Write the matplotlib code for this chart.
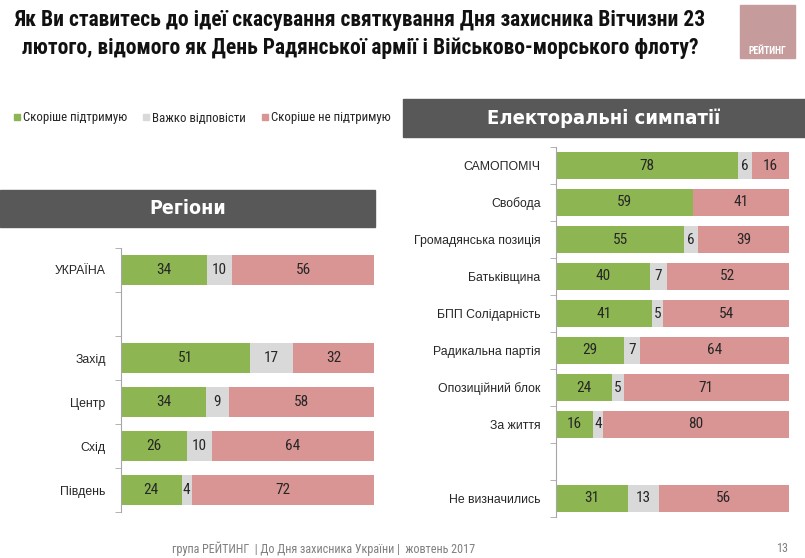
import matplotlib
matplotlib.use("Agg")
import matplotlib.pyplot as plt
from matplotlib import font_manager
from matplotlib.patches import Rectangle
from matplotlib.lines import Line2D
import numpy as np

# ─── DATA ──────────────────────────────────────────────────────────────────────
series_names = ["Скоріше підтримую", "Важко відповісти", "Скоріше не підтримую"]

region_labels = ["УКРАЇНА", "Захід", "Центр", "Схід", "Південь"]
region_support = [34, 51, 34, 26, 24]
region_hard = [10, 17, 9, 10, 4]
region_against = [56, 32, 58, 64, 72]

party_labels = ["САМОПОМІЧ", "Свобода", "Громадянська позиція", "Батьківщина",
                "БПП Солідарність", "Радикальна партія", "Опозиційний блок",
                "За життя", "Не визначились"]
party_support = [78, 59, 55, 40, 41, 29, 24, 16, 31]
party_hard = [6, 0, 6, 7, 5, 7, 5, 4, 13]
party_against = [16, 41, 39, 52, 54, 64, 71, 80, 56]

title = ("Як Ви ставитесь до ідеї скасування святкування Дня захисника Вітчизни 23\n"
         "лютого, відомого як День Радянської армії і Військово-морського флоту?")
footer = "група РЕЙТИНГ  | До Дня захисника України |  жовтень 2017"
page_no = "13"

# ─── STYLE ─────────────────────────────────────────────────────────────────────
COLORS = ["#8db653", "#d9d9d9", "#d99594"]
HEADER = "#585858"
names = {f.name for f in font_manager.fontManager.ttflist}
cond = [n for n in ["Liberation Sans Narrow", "DejaVu Sans Condensed", "Roboto Condensed",
                    "Open Sans Condensed"] if n in names]
NARROW = cond[0] if cond else "Liberation Sans"
plt.rcParams["font.family"] = [NARROW, "DejaVu Sans"]
plt.rcParams["font.stretch"] = "condensed"

W, H = 805, 558
fig = plt.figure(figsize=(W / 100, H / 100), dpi=100)


def px_axes(x0, y0, x1, y1):
    """Axes from pixel box (top-left origin)."""
    return fig.add_axes([x0 / W, 1 - y1 / H, (x1 - x0) / W, (y1 - y0) / H])


def px_rect(x0, y0, x1, y1, color):
    fig.patches.append(Rectangle((x0 / W, 1 - y1 / H), (x1 - x0) / W, (y1 - y0) / H,
                                 transform=fig.transFigure, color=color, zorder=0))


def draw_panel(ax, labels, positions, n_slots, cols, bar_h):
    data = np.array(cols, dtype=float)
    totals = data.sum(axis=0)
    shares = data / totals * 100
    left = np.zeros(len(labels))
    for i in range(3):
        ax.barh(positions, shares[i], left=left, height=bar_h, color=COLORS[i],
                edgecolor="none")
        for p, l, s, v in zip(positions, left, shares[i], data[i]):
            if v > 0:
                ax.text(l + s / 2, p, f"{int(v)}", ha="center", va="center",
                        fontsize=11, color="#262626")
        left += shares[i]
    ax.set_xlim(0, 100)
    ax.set_ylim(n_slots - 0.5, -0.5)
    ax.set_yticks(positions)
    ax.set_yticklabels(labels, fontsize=8.8, color="#262626",
                       family=["Liberation Sans", "DejaVu Sans"], stretch="normal")
    ax.set_yticks(np.arange(n_slots + 1) - 0.5, minor=True)
    ax.tick_params(axis="y", which="major", length=0, pad=11)
    ax.tick_params(axis="y", which="minor", length=4, color="#a6a6a6", direction="out")
    ax.set_xticks([])
    for side in ["top", "right", "bottom"]:
        ax.spines[side].set_visible(False)
    ax.spines["left"].set_color("#a6a6a6")
    ax.patch.set_alpha(0)


# ── title + logo ──
fig.text(360 / W, 1 - 34 / H, title, ha="center", va="center", fontsize=15.5,
         fontweight="bold", color="#111111", linespacing=1.35)
px_rect(740, 5, 795, 58, "#c59b9c")
fig.text(767 / W, 1 - 51 / H, "РЕЙТИНГ", ha="center", va="center", fontsize=7,
         fontweight="bold", color="white")

# ── legend ──
handles = [Line2D([], [], marker="s", linestyle="none", markersize=5,
                  color=c) for c in COLORS]
fig.legend(handles, series_names, loc="center left", bbox_to_anchor=(0, 1 - 118 / H),
           ncol=3, frameon=False, fontsize=9.3, handletextpad=0.05, columnspacing=1.1,
           handlelength=0.8, labelcolor="#262626")

# ── section headers ──
px_rect(403, 99, 805, 137, HEADER)
fig.text(604 / W, 1 - 118 / H, "Електоральні симпатії", ha="center", va="center",
         fontsize=14.5, fontweight="heavy", color="white", family="DejaVu Sans")
px_rect(0, 190, 375, 227, HEADER)
fig.text(188 / W, 1 - 209 / H, "Регіони", ha="center", va="center",
         fontsize=14, fontweight="heavy", color="white", family="DejaVu Sans")

# ── regions panel ──
ax1 = px_axes(121, 248, 374, 512)
draw_panel(ax1, region_labels, [0, 2, 3, 4, 5], 6,
           [region_support, region_hard, region_against], 0.7)

# ── party panel ──
ax2 = px_axes(556, 147, 789, 517)
draw_panel(ax2, party_labels, [0, 1, 2, 3, 4, 5, 6, 7, 9], 10,
           [party_support, party_hard, party_against], 0.72)

# ── footer ──
fig.text(172 / W, 1 - 549 / H, footer, ha="left", va="center", fontsize=8.7,
         color="#7f7f7f")
fig.text(782 / W, 1 - 549 / H, page_no, ha="center", va="center", fontsize=8.7,
         color="#7f7f7f")

fig.savefig("out.png", dpi=100, facecolor="white")
